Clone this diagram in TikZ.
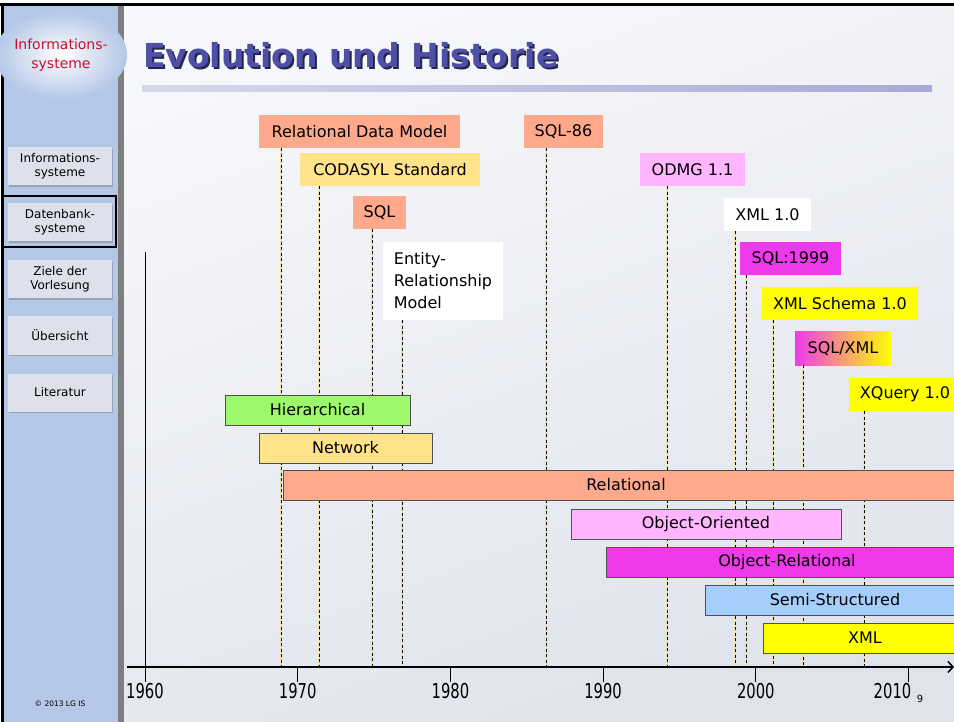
\documentclass[tikz,border=0pt]{standalone}
\usepackage{fontspec}
\setmainfont{DejaVu Sans}
\usepackage{graphicx}
\usepackage{tikz}
\usetikzlibrary{shapes.geometric, arrows.meta, shadows}

\definecolor{sideblue}{HTML}{B4C7E7}
\definecolor{stripgrey}{HTML}{7F7F7F}
\definecolor{bgA}{HTML}{F6F7FA}
\definecolor{bgB}{HTML}{DFE3EC}
\definecolor{logored}{HTML}{C8102E}
\definecolor{btnfill}{HTML}{DDE1EB}
\definecolor{btnshade}{HTML}{9AA2B6}
\definecolor{titleblue}{HTML}{4E50A8}
\definecolor{titleshade}{HTML}{26264A}
\definecolor{ulA}{HTML}{D6D9EA}
\definecolor{ulB}{HTML}{A8A9D6}
\definecolor{paleyel}{HTML}{EDE2B2}
\definecolor{bardraw}{HTML}{505050}
\definecolor{cSalmon}{HTML}{FFA98C}
\definecolor{cCodasyl}{HTML}{FFE38A}
\definecolor{cGreen}{HTML}{9EF86C}
\definecolor{cPink}{HTML}{FFB6FF}
\definecolor{cMagenta}{HTML}{EE3AEA}
\definecolor{cSky}{HTML}{A6CEFA}
\definecolor{cYellow}{HTML}{FFFF00}

\tikzstyle{event} = [rectangle, minimum height=33pt, inner sep=0pt, font=\fontsize{16}{19}\selectfont]
\tikzstyle{bar} = [rectangle, draw=bardraw, line width=1pt, minimum height=30pt, inner sep=0pt, font=\fontsize{16}{19}\selectfont]
\tikzstyle{yearline} = [preaction={draw=paleyel, line width=2.2pt, solid}, draw=black, line width=0.8pt, dash pattern=on 3pt off 2.5pt]
\tikzstyle{navbutton} = [rectangle, fill=btnfill, minimum width=104pt, minimum height=38pt, align=center, font=\fontsize{12}{14}\selectfont, drop shadow={shadow xshift=1pt, shadow yshift=-1.5pt, fill=btnshade, opacity=1}]
\tikzstyle{axis} = [line width=1.5pt, -{Straight Barb[length=5pt,width=11pt]}]
\tikzstyle{yearlabel} = [inner sep=0pt, font=\fontsize{20.5}{24}\selectfont]

\begin{document}
\begin{tikzpicture}[x=1pt, y=-1pt]
    \useasboundingbox (0,0) rectangle (954,722);
    % page background and side bar
    \shade[top color=bgA, bottom color=bgB, shading angle=20] (124,6) rectangle (954,722);
    \fill[sideblue] (3,6) rectangle (118,722);
    \fill[stripgrey] (118,6) rectangle (124,722);
    \draw[line width=3pt] (0,4.5) -- (954,4.5);
    \draw[line width=3pt] (2,4.5) -- (2,722);

    \node (logo) [ellipse, minimum width=100pt, minimum height=90pt, inner sep=0pt, inner color=white, outer color=sideblue, text=logored, align=center, font=\fontsize{14}{19}\selectfont] at (61,55) {Informations-\\systeme};

    \node (nav1) [navbutton] at (60,166.5) {Informations-\\systeme};
    \node (nav2) [navbutton] at (60,222.5) {Datenbank-\\systeme};
    \node (nav3) [navbutton] at (60,279.5) {Ziele der\\Vorlesung};
    \node (nav4) [navbutton] at (60,335.5) {Übersicht};
    \node (nav5) [navbutton] at (60,392.5) {Literatur};
    \node (navsel) [draw, line width=2pt, minimum width=114pt, minimum height=51pt] at (58.5,222) {};
    \node (copy) [font=\fontsize{7.5}{9}\selectfont] at (60,704) {© 2013 LG IS};

    % title
    \node (titleshadow) [anchor=base west, inner sep=0pt, text=titleshade, font=\fontsize{33}{40}\selectfont\bfseries] at (145,70) {Evolution und Historie};
    \node (title) [anchor=base west, inner sep=0pt, text=titleblue, font=\fontsize{33}{40}\selectfont\bfseries] at (143,68) {Evolution und Historie};
    \shade[left color=ulA, right color=ulB] (142,86) rectangle (932,92);

    % events
    \node (rdm) [event, fill=cSalmon, minimum width=201pt] at (359.5,131.5) {Relational Data Model};
    \node (codasyl) [event, fill=cCodasyl, minimum width=180pt] at (390,169.5) {CODASYL Standard};
    \node (sql) [event, fill=cSalmon, minimum width=53pt] at (379.5,212.5) {SQL};
    \node (er) [event, fill=white, minimum width=120pt, minimum height=78pt, align=left, font=\fontsize{16}{22}\selectfont] at (443,281) {Entity-\\Relationship\\Model};
    \node (sql86) [event, fill=cSalmon, minimum width=79pt] at (563.5,131.5) {SQL-86};
    \node (odmg) [event, fill=cPink, minimum width=105pt] at (692.5,169.5) {ODMG 1.1};
    \node (xml10) [event, fill=white, minimum width=87pt] at (767.5,214.5) {XML 1.0};
    \node (sql99) [event, fill=cMagenta, minimum width=101pt] at (790.5,258.5) {SQL:1999};
    \node (xmls) [event, fill=cYellow, minimum width=156pt] at (840,303.5) {XML Schema 1.0};
    \node (sqlxml) [event, left color=cMagenta, middle color=cSalmon!80!cMagenta, right color=cYellow, minimum width=96pt] at (843,348.5) {SQL/XML};
    \node (xquery) [event, fill=cYellow, minimum width=112pt] at (905,394.5) {XQuery 1.0};

    % axis
    \coordinate (origin) at (127,667);
    \coordinate (axisend) at (954,667);
    \coordinate (ytop) at (145,252);
    \coordinate (ybot) at (145,682);
    \draw[line width=1pt] (ytop) -- (ybot);
    \foreach \yr/\shift [count=\i from 0] in {1960/0,1970/0,1980/0,1990/0,2000/0,2010/-16} {
        \coordinate (ax\yr) at (145+\i*152.7,667);
        \node (yr\yr) [yearlabel] at (145+\i*152.7+\shift,691.5) {\scalebox{0.72}[1]{\yr}};
        \draw[line width=0.8pt] (ax\yr) -- ++(0,15);
    }
    \node (pageno) [inner sep=0pt, font=\fontsize{10}{12}\selectfont] at (920,699) {9};

    \foreach \ev/\xx in {rdm/281, codasyl/319, sql/372, er/402, sql86/546, odmg/667, xml10/735, sql99/746, xmls/773, sqlxml/803, xquery/864} {
        \coordinate (\ev-axis) at (\xx,667);
        \draw[yearline] (\ev.south -| \ev-axis) -- (\ev-axis);
    }
    \draw[axis] (origin) -- (axisend);

    % data models
    \node (hier) [bar, fill=cGreen, minimum width=185pt] at (317.5,410) {Hierarchical};
    \node (net) [bar, fill=cCodasyl, minimum width=173pt] at (345.5,448) {Network};
    \node (rel) [bar, fill=cSalmon, minimum width=686pt] at (626,485) {Relational};
    \node (oo) [bar, fill=cPink, minimum width=270pt] at (706,524) {Object-Oriented};
    \node (objrel) [bar, fill=cMagenta, minimum width=362pt] at (787,562) {Object-Relational};
    \node (semi) [bar, fill=cSky, minimum width=260pt] at (835,600) {Semi-Structured};
    \node (xmlbar) [bar, fill=cYellow, minimum width=204pt] at (865,638) {XML};
\end{tikzpicture}
\end{document}
